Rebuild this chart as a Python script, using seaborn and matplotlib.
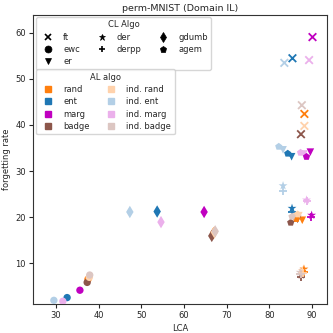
import matplotlib
matplotlib.use("Agg")
import matplotlib.pyplot as plt
from matplotlib.lines import Line2D
import seaborn as sns
import pandas as pd

al_names = ["rand", "ent", "marg", "badge", "ind. rand", "ind. ent", "ind. marg", "ind. badge"]
cl_names = ["ft", "ewc", "er", "der", "derpp", "gdumb", "agem"]

# LCA / forgetting per CL algo, in the order of al_names
lca = {
    "ft":    [88.2, 85.4, 90.1, 87.4, 88.2, 83.5, 89.3, 87.6],
    "ewc":   [37.5, 32.6, 35.6, 37.3, 37.8, 29.5, 31.6, 37.9],
    "er":    [87.7, 85.2, 89.6, 86.6, 86.9, 83.2, 88.1, 86.2],
    "der":   [88.1, 85.3, 89.9, 87.5, 87.7, 83.2, 88.7, 87.2],
    "derpp": [88.2, 85.4, 89.8, 87.4, 87.8, 83.1, 88.8, 87.3],
    "gdumb": [66.9, 53.7, 64.7, 66.5, 67.1, 47.3, 54.6, 67.3],
    "agem":  [86.3, 84.3, 88.7, 85.0, 86.6, 82.2, 87.3, 85.3],
}
forgetting = {
    "ft":    [42.4, 54.5, 59.1, 38.0, 39.8, 53.5, 54.1, 44.3],
    "ewc":   [6.5, 2.5, 4.1, 5.8, 6.9, 1.9, 1.7, 7.4],
    "er":    [19.3, 33.1, 34.1, 19.5, 20.3, 34.6, 33.7, 20.0],
    "der":   [8.7, 21.9, 20.4, 7.4, 8.4, 26.8, 23.7, 8.0],
    "derpp": [8.1, 21.2, 20.0, 7.0, 7.8, 25.6, 23.4, 7.6],
    "gdumb": [16.5, 21.2, 21.1, 15.9, 16.7, 21.1, 18.9, 16.9],
    "agem":  [19.6, 33.8, 33.1, 18.8, 20.6, 35.3, 34.0, 20.1],
}

rows = []
for cl in cl_names:
    for i, al in enumerate(al_names):
        rows.append({"CL": cl, "AL": al, "LCA": lca[cl][i], "forgetting rate": forgetting[cl][i]})
df = pd.DataFrame(rows)

colors = {
    "rand": "#ff7f0e", "ent": "#1f77b4", "marg": "#c000c0", "badge": "#8c564b",
    "ind. rand": "#ffd2ac", "ind. ent": "#b3cfe6", "ind. marg": "#ebb0eb", "ind. badge": "#dcc6c2",
}
markers = {"ft": "x", "ewc": "o", "er": "v", "der": "*", "derpp": "+", "gdumb": "d", "agem": "p"}
sizes = {"ft": 30, "ewc": 28, "er": 30, "der": 45, "derpp": 34, "gdumb": 40, "agem": 30}

sns.set_style("ticks")
plt.rcParams['font.family'] = ['DejaVu Sans']
fig = plt.figure(figsize=(3.33, 3.33), dpi=100)
ax = fig.add_axes([0.099, 0.087, 0.883, 0.868])

for cl in cl_names:
    sub = df[df.CL == cl]
    thin = cl in ("ft", "derpp")
    sns.scatterplot(data=sub, x="LCA", y="forgetting rate", hue="AL", palette=colors,
                    hue_order=al_names, marker=markers[cl], s=sizes[cl],
                    linewidth=1.3 if thin else 0, legend=False, ax=ax, zorder=3)

ax.set_xlim(24.6, 93.5)
ax.set_ylim(1.1, 63.9)
ax.set_xticks([30, 40, 50, 60, 70, 80, 90])
ax.set_yticks([10, 20, 30, 40, 50, 60])
ax.tick_params(labelsize=6, length=3, width=0.8, pad=2)
ax.set_xlabel("LCA", fontsize=6, labelpad=3)
ax.set_ylabel("forgetting rate", fontsize=6, labelpad=3)
ax.set_title("perm-MNIST (Domain IL)", fontsize=6.8, pad=3)
for sp in ax.spines.values():
    sp.set_linewidth(0.8)
    sp.set_color("#333333")

cl_handles = [Line2D([], [], marker=markers[c], color="black", linestyle="", markersize=5,
                     markeredgewidth=1.2 if c in ("ft", "derpp") else 0.5, label=c) for c in cl_names]
leg1 = ax.legend(handles=cl_handles, title="CL Algo", ncol=3, loc="upper left",
                 bbox_to_anchor=(0.012, 0.993), borderaxespad=0, fontsize=6, title_fontsize=6,
                 handletextpad=0.8, columnspacing=1.6, labelspacing=0.4, frameon=True)
ax.add_artist(leg1)

al_handles = [Line2D([], [], marker="s", color=colors[a], linestyle="", markersize=4.5, label=a)
              for a in al_names]
ax.legend(handles=al_handles, title="AL algo", ncol=2, loc="upper left",
          bbox_to_anchor=(0.012, 0.812), borderaxespad=0, fontsize=6, title_fontsize=6,
          handletextpad=0.8, columnspacing=1.6, labelspacing=0.4, frameon=True)

fig.savefig("out.png", dpi=100)
